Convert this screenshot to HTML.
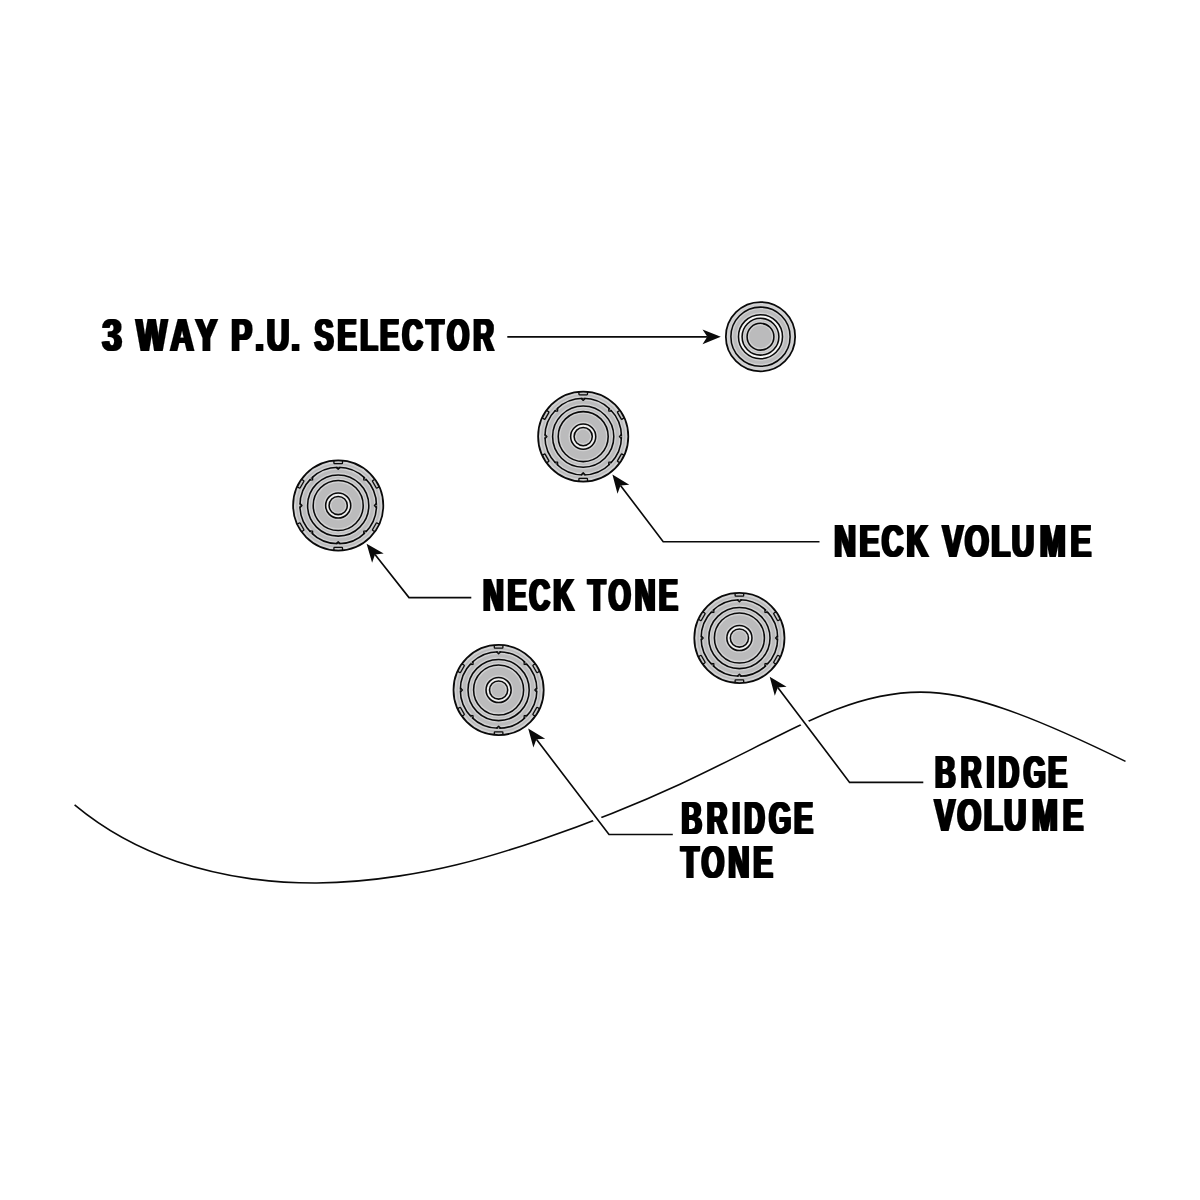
<!DOCTYPE html>
<html lang="en">
<head>
<meta charset="utf-8">
<title>Control layout diagram</title>
<style>
html,body{margin:0;padding:0;background:#fff;}
body{width:1200px;height:1200px;overflow:hidden;}
svg{display:block;}
.t text{font-family:"Liberation Sans",sans-serif;font-weight:700;font-size:46.3px;fill:#000;stroke:#000;stroke-width:0.2px;stroke-linejoin:miter;}
</style>
</head>
<body>
<svg width="1200" height="1200" viewBox="0 0 1200 1200">
<defs><filter id="hv" filterUnits="userSpaceOnUse" x="0" y="0" width="1200" height="1200"><feMorphology operator="dilate" radius="1 0" result="d"/><feOffset in="d" dx="1" result="o"/><feMerge><feMergeNode in="d"/><feMergeNode in="o"/></feMerge></filter></defs>
<rect width="1200" height="1200" fill="#fff"/>
<path d="M74.6 804.9C108.6 833.2 142.7 850.0 176.7 861.4C201.1 869.6 225.6 875.1 250.0 878.6C272.2 881.7 294.5 883.1 316.7 883.0C344.5 882.8 372.2 880.2 400.0 875.9C418.9 873.0 437.8 869.4 456.7 864.8C484.5 858.1 512.2 849.4 540.0 839.9C586.7 824.0 633.3 805.8 680.0 784.2C713.3 768.7 746.7 751.5 780.0 735.0C798.9 725.6 817.8 716.5 836.7 709.3C867.8 697.4 898.9 690.7 930.0 692.4C943.3 693.1 956.7 695.4 970.0 698.6C981.1 701.3 992.2 704.7 1003.3 708.5C1044.0 722.3 1084.8 741.5 1125.5 761.4" fill="none" stroke="#0a0a0a" stroke-width="1.6"/>
<path d="M507.3 336.8L707.3 336.8" fill="none" stroke="#0a0a0a" stroke-width="1.65" stroke-linejoin="miter"/>
<path d="M720.8 336.8L702.5 344.2L707.3 336.8L702.5 329.4Z" fill="#0a0a0a"/>
<path d="M819.5 541.7L663.2 541.7L620.5 485.4" fill="none" stroke="#0a0a0a" stroke-width="1.65" stroke-linejoin="miter"/>
<path d="M612.4 474.6L629.3 484.7L620.5 485.4L617.5 493.7Z" fill="#0a0a0a"/>
<path d="M471.3 597.6L409.0 597.6L375.0 554.4" fill="none" stroke="#0a0a0a" stroke-width="1.65" stroke-linejoin="miter"/>
<path d="M366.6 543.8L383.7 553.6L375.0 554.4L372.1 562.8Z" fill="#0a0a0a"/>
<path d="M672.8 834.5L609.0 834.5L536.4 739.3" fill="none" stroke="#fff" stroke-width="8.5"/>
<path d="M672.8 834.5L609.0 834.5L536.4 739.3" fill="none" stroke="#0a0a0a" stroke-width="1.65" stroke-linejoin="miter"/>
<path d="M528.2 728.6L545.2 738.7L536.4 739.3L533.4 747.6Z" fill="#0a0a0a"/>
<path d="M923.3 782.4L849.6 782.4L777.8 687.5" fill="none" stroke="#fff" stroke-width="8.5"/>
<path d="M923.3 782.4L849.6 782.4L777.8 687.5" fill="none" stroke="#0a0a0a" stroke-width="1.65" stroke-linejoin="miter"/>
<path d="M769.7 676.7L786.6 686.8L777.8 687.5L774.8 695.8Z" fill="#0a0a0a"/>
<g transform="translate(760.5 336.7)" fill="none" stroke="#0a0a0a" stroke-width="1.55">
<circle r="34.65" fill="#bbbbbc" stroke="none"/>
<circle r="22.0" fill="#f2f2f2" stroke="none"/>
<circle r="18.4" fill="#bbbbbc" stroke="none"/>
<g stroke="#fff" stroke-opacity="0.34" stroke-width="4.4">
<circle r="34.05"/>
<circle r="29.6"/>
<circle r="22.0"/>
<circle r="18.4"/>
<circle r="13.4"/>
</g>
<circle r="34.65" stroke-width="1.75"/>
<circle r="29.6"/>
<circle r="22.0"/>
<circle r="18.4"/>
<circle r="13.4"/>
</g>
<g transform="translate(583.2 436.6)" fill="none" stroke="#0a0a0a" stroke-width="1.55">
<circle r="45.1" fill="#bbbbbc" stroke="none"/>
<circle r="12.55" fill="#e2e2e2" stroke="none"/>
<circle r="9.1" fill="#bbbbbc" stroke="none"/>
<g stroke="#fff" stroke-opacity="0.34" stroke-width="4.4">
<circle r="44.5"/>
<circle r="38.3"/>
<circle r="30.6"/>
<circle r="25"/>
<circle r="12.55"/>
<circle r="9.1"/>
</g>
<path d="M-4.3 -44.7V-42.5Q-4.3 -41.8 -3.6 -41.8H3.6Q4.3 -41.8 4.3 -42.5V-44.7" fill="#c6c6c6" stroke-width="1.3" transform="rotate(0)"/>
<path d="M-4.3 -44.7V-42.5Q-4.3 -41.8 -3.6 -41.8H3.6Q4.3 -41.8 4.3 -42.5V-44.7" fill="#c6c6c6" stroke-width="1.3" transform="rotate(60)"/>
<path d="M-4.3 -44.7V-42.5Q-4.3 -41.8 -3.6 -41.8H3.6Q4.3 -41.8 4.3 -42.5V-44.7" fill="#c6c6c6" stroke-width="1.3" transform="rotate(120)"/>
<path d="M-4.3 -44.7V-42.5Q-4.3 -41.8 -3.6 -41.8H3.6Q4.3 -41.8 4.3 -42.5V-44.7" fill="#c6c6c6" stroke-width="1.3" transform="rotate(180)"/>
<path d="M-4.3 -44.7V-42.5Q-4.3 -41.8 -3.6 -41.8H3.6Q4.3 -41.8 4.3 -42.5V-44.7" fill="#c6c6c6" stroke-width="1.3" transform="rotate(240)"/>
<path d="M-4.3 -44.7V-42.5Q-4.3 -41.8 -3.6 -41.8H3.6Q4.3 -41.8 4.3 -42.5V-44.7" fill="#c6c6c6" stroke-width="1.3" transform="rotate(300)"/>
<circle r="45.1" stroke-width="1.75"/>
<circle r="38.3"/>
<circle r="30.6"/>
<circle r="25"/>
<circle r="12.55"/>
<circle r="9.1"/>
<path d="M-2.3 -38.3L0 -36.2L2.3 -38.3" stroke-width="1.3" stroke-linejoin="round" transform="rotate(0)"/>
<path d="M-1.4 -39.3L0 -38L1.4 -39.3Z" fill="#c6c6c6" stroke="none" transform="rotate(0)"/>
<path d="M-2.3 -38.3L0 -36.2L2.3 -38.3" stroke-width="1.3" stroke-linejoin="round" transform="rotate(45)"/>
<path d="M-1.4 -39.3L0 -38L1.4 -39.3Z" fill="#c6c6c6" stroke="none" transform="rotate(45)"/>
<path d="M-2.3 -38.3L0 -36.2L2.3 -38.3" stroke-width="1.3" stroke-linejoin="round" transform="rotate(90)"/>
<path d="M-1.4 -39.3L0 -38L1.4 -39.3Z" fill="#c6c6c6" stroke="none" transform="rotate(90)"/>
<path d="M-2.3 -38.3L0 -36.2L2.3 -38.3" stroke-width="1.3" stroke-linejoin="round" transform="rotate(135)"/>
<path d="M-1.4 -39.3L0 -38L1.4 -39.3Z" fill="#c6c6c6" stroke="none" transform="rotate(135)"/>
<path d="M-2.3 -38.3L0 -36.2L2.3 -38.3" stroke-width="1.3" stroke-linejoin="round" transform="rotate(180)"/>
<path d="M-1.4 -39.3L0 -38L1.4 -39.3Z" fill="#c6c6c6" stroke="none" transform="rotate(180)"/>
<path d="M-2.3 -38.3L0 -36.2L2.3 -38.3" stroke-width="1.3" stroke-linejoin="round" transform="rotate(225)"/>
<path d="M-1.4 -39.3L0 -38L1.4 -39.3Z" fill="#c6c6c6" stroke="none" transform="rotate(225)"/>
<path d="M-2.3 -38.3L0 -36.2L2.3 -38.3" stroke-width="1.3" stroke-linejoin="round" transform="rotate(270)"/>
<path d="M-1.4 -39.3L0 -38L1.4 -39.3Z" fill="#c6c6c6" stroke="none" transform="rotate(270)"/>
<path d="M-2.3 -38.3L0 -36.2L2.3 -38.3" stroke-width="1.3" stroke-linejoin="round" transform="rotate(315)"/>
<path d="M-1.4 -39.3L0 -38L1.4 -39.3Z" fill="#c6c6c6" stroke="none" transform="rotate(315)"/>
</g>
<g transform="translate(338.2 505.5)" fill="none" stroke="#0a0a0a" stroke-width="1.55">
<circle r="45.1" fill="#bbbbbc" stroke="none"/>
<circle r="12.55" fill="#e2e2e2" stroke="none"/>
<circle r="9.1" fill="#bbbbbc" stroke="none"/>
<g stroke="#fff" stroke-opacity="0.34" stroke-width="4.4">
<circle r="44.5"/>
<circle r="38.3"/>
<circle r="30.6"/>
<circle r="25"/>
<circle r="12.55"/>
<circle r="9.1"/>
</g>
<path d="M-4.3 -44.7V-42.5Q-4.3 -41.8 -3.6 -41.8H3.6Q4.3 -41.8 4.3 -42.5V-44.7" fill="#c6c6c6" stroke-width="1.3" transform="rotate(0)"/>
<path d="M-4.3 -44.7V-42.5Q-4.3 -41.8 -3.6 -41.8H3.6Q4.3 -41.8 4.3 -42.5V-44.7" fill="#c6c6c6" stroke-width="1.3" transform="rotate(60)"/>
<path d="M-4.3 -44.7V-42.5Q-4.3 -41.8 -3.6 -41.8H3.6Q4.3 -41.8 4.3 -42.5V-44.7" fill="#c6c6c6" stroke-width="1.3" transform="rotate(120)"/>
<path d="M-4.3 -44.7V-42.5Q-4.3 -41.8 -3.6 -41.8H3.6Q4.3 -41.8 4.3 -42.5V-44.7" fill="#c6c6c6" stroke-width="1.3" transform="rotate(180)"/>
<path d="M-4.3 -44.7V-42.5Q-4.3 -41.8 -3.6 -41.8H3.6Q4.3 -41.8 4.3 -42.5V-44.7" fill="#c6c6c6" stroke-width="1.3" transform="rotate(240)"/>
<path d="M-4.3 -44.7V-42.5Q-4.3 -41.8 -3.6 -41.8H3.6Q4.3 -41.8 4.3 -42.5V-44.7" fill="#c6c6c6" stroke-width="1.3" transform="rotate(300)"/>
<circle r="45.1" stroke-width="1.75"/>
<circle r="38.3"/>
<circle r="30.6"/>
<circle r="25"/>
<circle r="12.55"/>
<circle r="9.1"/>
<path d="M-2.3 -38.3L0 -36.2L2.3 -38.3" stroke-width="1.3" stroke-linejoin="round" transform="rotate(0)"/>
<path d="M-1.4 -39.3L0 -38L1.4 -39.3Z" fill="#c6c6c6" stroke="none" transform="rotate(0)"/>
<path d="M-2.3 -38.3L0 -36.2L2.3 -38.3" stroke-width="1.3" stroke-linejoin="round" transform="rotate(45)"/>
<path d="M-1.4 -39.3L0 -38L1.4 -39.3Z" fill="#c6c6c6" stroke="none" transform="rotate(45)"/>
<path d="M-2.3 -38.3L0 -36.2L2.3 -38.3" stroke-width="1.3" stroke-linejoin="round" transform="rotate(90)"/>
<path d="M-1.4 -39.3L0 -38L1.4 -39.3Z" fill="#c6c6c6" stroke="none" transform="rotate(90)"/>
<path d="M-2.3 -38.3L0 -36.2L2.3 -38.3" stroke-width="1.3" stroke-linejoin="round" transform="rotate(135)"/>
<path d="M-1.4 -39.3L0 -38L1.4 -39.3Z" fill="#c6c6c6" stroke="none" transform="rotate(135)"/>
<path d="M-2.3 -38.3L0 -36.2L2.3 -38.3" stroke-width="1.3" stroke-linejoin="round" transform="rotate(180)"/>
<path d="M-1.4 -39.3L0 -38L1.4 -39.3Z" fill="#c6c6c6" stroke="none" transform="rotate(180)"/>
<path d="M-2.3 -38.3L0 -36.2L2.3 -38.3" stroke-width="1.3" stroke-linejoin="round" transform="rotate(225)"/>
<path d="M-1.4 -39.3L0 -38L1.4 -39.3Z" fill="#c6c6c6" stroke="none" transform="rotate(225)"/>
<path d="M-2.3 -38.3L0 -36.2L2.3 -38.3" stroke-width="1.3" stroke-linejoin="round" transform="rotate(270)"/>
<path d="M-1.4 -39.3L0 -38L1.4 -39.3Z" fill="#c6c6c6" stroke="none" transform="rotate(270)"/>
<path d="M-2.3 -38.3L0 -36.2L2.3 -38.3" stroke-width="1.3" stroke-linejoin="round" transform="rotate(315)"/>
<path d="M-1.4 -39.3L0 -38L1.4 -39.3Z" fill="#c6c6c6" stroke="none" transform="rotate(315)"/>
</g>
<g transform="translate(739.4 638)" fill="none" stroke="#0a0a0a" stroke-width="1.55">
<circle r="45.1" fill="#bbbbbc" stroke="none"/>
<circle r="12.55" fill="#e2e2e2" stroke="none"/>
<circle r="9.1" fill="#bbbbbc" stroke="none"/>
<g stroke="#fff" stroke-opacity="0.34" stroke-width="4.4">
<circle r="44.5"/>
<circle r="38.3"/>
<circle r="30.6"/>
<circle r="25"/>
<circle r="12.55"/>
<circle r="9.1"/>
</g>
<path d="M-4.3 -44.7V-42.5Q-4.3 -41.8 -3.6 -41.8H3.6Q4.3 -41.8 4.3 -42.5V-44.7" fill="#c6c6c6" stroke-width="1.3" transform="rotate(0)"/>
<path d="M-4.3 -44.7V-42.5Q-4.3 -41.8 -3.6 -41.8H3.6Q4.3 -41.8 4.3 -42.5V-44.7" fill="#c6c6c6" stroke-width="1.3" transform="rotate(60)"/>
<path d="M-4.3 -44.7V-42.5Q-4.3 -41.8 -3.6 -41.8H3.6Q4.3 -41.8 4.3 -42.5V-44.7" fill="#c6c6c6" stroke-width="1.3" transform="rotate(120)"/>
<path d="M-4.3 -44.7V-42.5Q-4.3 -41.8 -3.6 -41.8H3.6Q4.3 -41.8 4.3 -42.5V-44.7" fill="#c6c6c6" stroke-width="1.3" transform="rotate(180)"/>
<path d="M-4.3 -44.7V-42.5Q-4.3 -41.8 -3.6 -41.8H3.6Q4.3 -41.8 4.3 -42.5V-44.7" fill="#c6c6c6" stroke-width="1.3" transform="rotate(240)"/>
<path d="M-4.3 -44.7V-42.5Q-4.3 -41.8 -3.6 -41.8H3.6Q4.3 -41.8 4.3 -42.5V-44.7" fill="#c6c6c6" stroke-width="1.3" transform="rotate(300)"/>
<circle r="45.1" stroke-width="1.75"/>
<circle r="38.3"/>
<circle r="30.6"/>
<circle r="25"/>
<circle r="12.55"/>
<circle r="9.1"/>
<path d="M-2.3 -38.3L0 -36.2L2.3 -38.3" stroke-width="1.3" stroke-linejoin="round" transform="rotate(0)"/>
<path d="M-1.4 -39.3L0 -38L1.4 -39.3Z" fill="#c6c6c6" stroke="none" transform="rotate(0)"/>
<path d="M-2.3 -38.3L0 -36.2L2.3 -38.3" stroke-width="1.3" stroke-linejoin="round" transform="rotate(45)"/>
<path d="M-1.4 -39.3L0 -38L1.4 -39.3Z" fill="#c6c6c6" stroke="none" transform="rotate(45)"/>
<path d="M-2.3 -38.3L0 -36.2L2.3 -38.3" stroke-width="1.3" stroke-linejoin="round" transform="rotate(90)"/>
<path d="M-1.4 -39.3L0 -38L1.4 -39.3Z" fill="#c6c6c6" stroke="none" transform="rotate(90)"/>
<path d="M-2.3 -38.3L0 -36.2L2.3 -38.3" stroke-width="1.3" stroke-linejoin="round" transform="rotate(135)"/>
<path d="M-1.4 -39.3L0 -38L1.4 -39.3Z" fill="#c6c6c6" stroke="none" transform="rotate(135)"/>
<path d="M-2.3 -38.3L0 -36.2L2.3 -38.3" stroke-width="1.3" stroke-linejoin="round" transform="rotate(180)"/>
<path d="M-1.4 -39.3L0 -38L1.4 -39.3Z" fill="#c6c6c6" stroke="none" transform="rotate(180)"/>
<path d="M-2.3 -38.3L0 -36.2L2.3 -38.3" stroke-width="1.3" stroke-linejoin="round" transform="rotate(225)"/>
<path d="M-1.4 -39.3L0 -38L1.4 -39.3Z" fill="#c6c6c6" stroke="none" transform="rotate(225)"/>
<path d="M-2.3 -38.3L0 -36.2L2.3 -38.3" stroke-width="1.3" stroke-linejoin="round" transform="rotate(270)"/>
<path d="M-1.4 -39.3L0 -38L1.4 -39.3Z" fill="#c6c6c6" stroke="none" transform="rotate(270)"/>
<path d="M-2.3 -38.3L0 -36.2L2.3 -38.3" stroke-width="1.3" stroke-linejoin="round" transform="rotate(315)"/>
<path d="M-1.4 -39.3L0 -38L1.4 -39.3Z" fill="#c6c6c6" stroke="none" transform="rotate(315)"/>
</g>
<g transform="translate(498.6 690)" fill="none" stroke="#0a0a0a" stroke-width="1.55">
<circle r="45.1" fill="#bbbbbc" stroke="none"/>
<circle r="12.55" fill="#e2e2e2" stroke="none"/>
<circle r="9.1" fill="#bbbbbc" stroke="none"/>
<g stroke="#fff" stroke-opacity="0.34" stroke-width="4.4">
<circle r="44.5"/>
<circle r="38.3"/>
<circle r="30.6"/>
<circle r="25"/>
<circle r="12.55"/>
<circle r="9.1"/>
</g>
<path d="M-4.3 -44.7V-42.5Q-4.3 -41.8 -3.6 -41.8H3.6Q4.3 -41.8 4.3 -42.5V-44.7" fill="#c6c6c6" stroke-width="1.3" transform="rotate(0)"/>
<path d="M-4.3 -44.7V-42.5Q-4.3 -41.8 -3.6 -41.8H3.6Q4.3 -41.8 4.3 -42.5V-44.7" fill="#c6c6c6" stroke-width="1.3" transform="rotate(60)"/>
<path d="M-4.3 -44.7V-42.5Q-4.3 -41.8 -3.6 -41.8H3.6Q4.3 -41.8 4.3 -42.5V-44.7" fill="#c6c6c6" stroke-width="1.3" transform="rotate(120)"/>
<path d="M-4.3 -44.7V-42.5Q-4.3 -41.8 -3.6 -41.8H3.6Q4.3 -41.8 4.3 -42.5V-44.7" fill="#c6c6c6" stroke-width="1.3" transform="rotate(180)"/>
<path d="M-4.3 -44.7V-42.5Q-4.3 -41.8 -3.6 -41.8H3.6Q4.3 -41.8 4.3 -42.5V-44.7" fill="#c6c6c6" stroke-width="1.3" transform="rotate(240)"/>
<path d="M-4.3 -44.7V-42.5Q-4.3 -41.8 -3.6 -41.8H3.6Q4.3 -41.8 4.3 -42.5V-44.7" fill="#c6c6c6" stroke-width="1.3" transform="rotate(300)"/>
<circle r="45.1" stroke-width="1.75"/>
<circle r="38.3"/>
<circle r="30.6"/>
<circle r="25"/>
<circle r="12.55"/>
<circle r="9.1"/>
<path d="M-2.3 -38.3L0 -36.2L2.3 -38.3" stroke-width="1.3" stroke-linejoin="round" transform="rotate(0)"/>
<path d="M-1.4 -39.3L0 -38L1.4 -39.3Z" fill="#c6c6c6" stroke="none" transform="rotate(0)"/>
<path d="M-2.3 -38.3L0 -36.2L2.3 -38.3" stroke-width="1.3" stroke-linejoin="round" transform="rotate(45)"/>
<path d="M-1.4 -39.3L0 -38L1.4 -39.3Z" fill="#c6c6c6" stroke="none" transform="rotate(45)"/>
<path d="M-2.3 -38.3L0 -36.2L2.3 -38.3" stroke-width="1.3" stroke-linejoin="round" transform="rotate(90)"/>
<path d="M-1.4 -39.3L0 -38L1.4 -39.3Z" fill="#c6c6c6" stroke="none" transform="rotate(90)"/>
<path d="M-2.3 -38.3L0 -36.2L2.3 -38.3" stroke-width="1.3" stroke-linejoin="round" transform="rotate(135)"/>
<path d="M-1.4 -39.3L0 -38L1.4 -39.3Z" fill="#c6c6c6" stroke="none" transform="rotate(135)"/>
<path d="M-2.3 -38.3L0 -36.2L2.3 -38.3" stroke-width="1.3" stroke-linejoin="round" transform="rotate(180)"/>
<path d="M-1.4 -39.3L0 -38L1.4 -39.3Z" fill="#c6c6c6" stroke="none" transform="rotate(180)"/>
<path d="M-2.3 -38.3L0 -36.2L2.3 -38.3" stroke-width="1.3" stroke-linejoin="round" transform="rotate(225)"/>
<path d="M-1.4 -39.3L0 -38L1.4 -39.3Z" fill="#c6c6c6" stroke="none" transform="rotate(225)"/>
<path d="M-2.3 -38.3L0 -36.2L2.3 -38.3" stroke-width="1.3" stroke-linejoin="round" transform="rotate(270)"/>
<path d="M-1.4 -39.3L0 -38L1.4 -39.3Z" fill="#c6c6c6" stroke="none" transform="rotate(270)"/>
<path d="M-2.3 -38.3L0 -36.2L2.3 -38.3" stroke-width="1.3" stroke-linejoin="round" transform="rotate(315)"/>
<path d="M-1.4 -39.3L0 -38L1.4 -39.3Z" fill="#c6c6c6" stroke="none" transform="rotate(315)"/>
</g>
<g class="t" filter="url(#hv)">
<text><tspan x="101.72" y="351" textLength="19.63" lengthAdjust="spacingAndGlyphs">3</tspan> <tspan x="135.86 169.73 194.88" y="351" textLength="75.58" lengthAdjust="spacingAndGlyphs">WAY</tspan> <tspan x="230.81 254.82 266.13 290.72" y="351" textLength="60.80" lengthAdjust="spacingAndGlyphs">P.U.</tspan> <tspan x="314.11 337.11 359.65 379.46 401.80 425.78 446.51 472.63" y="351" textLength="156.20" lengthAdjust="spacingAndGlyphs">SELECTOR</tspan></text>
<text><tspan x="833.79 859.10 881.18 905.92" y="557" textLength="85.25" lengthAdjust="spacingAndGlyphs">NECK</tspan> <tspan x="941.88 964.37 990.74 1011.29 1039.30 1070.00" y="557" textLength="133.00" lengthAdjust="spacingAndGlyphs">VOLUME</tspan></text>
<text><tspan x="482.41 506.95 528.80 552.82" y="611" textLength="81.60" lengthAdjust="spacingAndGlyphs">NECK</tspan> <tspan x="587.38 608.01 634.15 658.34" y="611" textLength="79.65" lengthAdjust="spacingAndGlyphs">TONE</tspan></text>
<text><tspan x="680.93 706.28 731.74 743.64 768.50 793.55" y="834" textLength="110.78" lengthAdjust="spacingAndGlyphs">BRIDGE</tspan> <tspan x="680.42 700.99 727.73 752.82" y="878" textLength="81.58" lengthAdjust="spacingAndGlyphs">TONE</tspan></text>
<text><tspan x="934.55 960.25 986.02 998.10 1023.11 1047.60" y="788" textLength="111.37" lengthAdjust="spacingAndGlyphs">BRIDGE</tspan> <tspan x="934.10 956.81 983.16 1003.62 1031.44 1062.27" y="831" textLength="132.07" lengthAdjust="spacingAndGlyphs">VOLUME</tspan></text>
</g>
</svg>
</body>
</html>
